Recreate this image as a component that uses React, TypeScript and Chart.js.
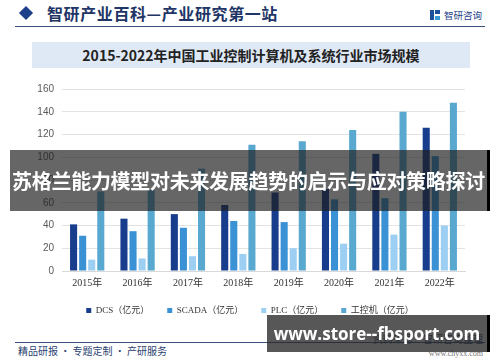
import React, { useEffect, useRef } from "react";
import { Chart, registerables } from "chart.js";
Chart.register(...registerables);

const years = ["2015年", "2016年", "2017年", "2018年", "2019年", "2020年", "2021年", "2022年"];
const dcs = [41, 46, 50, 58, 69, 72, 103, 126];
const scada = [31, 35, 38, 44, 43, 63, 64, 101];
const plc = [10, 11, 13, 15, 20, 24, 32, 40];
const ipc = [70, 71, 90, 111, 114, 124, 140, 148];
const seriesNames = ["DCS（亿元）", "SCADA（亿元）", "PLC（亿元）", "工控机（亿元）"];
const seriesColors = ["#173d8c", "#3a91d4", "#9ccff2", "#58a8d0"];
const yMin = 0;
const yMax = 160;
const yStep = 20;

const CJK = '"Noto Sans CJK SC", "Noto Sans", sans-serif';

export default function App() {
  const ref = useRef<HTMLCanvasElement>(null);
  useEffect(() => {
    document.body.style.margin = "0";
    const values = [dcs, scada, plc, ipc];
    const chart = new Chart(ref.current!, {
      type: "bar",
      data: {
        labels: years,
        datasets: values.map((v, i) => ({
          label: seriesNames[i],
          data: v,
          backgroundColor: seriesColors[i],
          borderWidth: 0,
          barPercentage: 0.78,
          categoryPercentage: 0.72,
        })),
      },
      options: {
        animation: false,
        responsive: false,
        events: [],
        layout: { padding: { left: 35, right: 35, top: 12, bottom: 0 } },
        plugins: {
          title: { display: false },
          tooltip: { enabled: false },
          legend: {
            position: "bottom",
            labels: {
              boxWidth: 5,
              boxHeight: 5,
              padding: 18,
              color: "#333",
              font: { size: 9, family: '"Liberation Serif", "Noto Sans CJK SC", serif' },
            },
          },
        },
        scales: {
          x: {
            grid: { display: false, drawTicks: false },
            border: { display: true, color: "#d9d9d9" },
            ticks: {
              padding: 6,
              color: "#333",
              font: { size: 10, family: '"Liberation Serif", "Noto Sans CJK SC", serif' },
            },
            afterFit: (s: any) => {
              s.height = 17;
            },
          },
          y: {
            min: yMin,
            max: yMax,
            ticks: {
              stepSize: yStep,
              padding: 8,
              color: "#595959",
              font: { size: 10, family: '"Liberation Sans", Arial, sans-serif' },
            },
            grid: { color: "#e3e3e3", drawTicks: false },
            border: { display: false },
            afterFit: (s: any) => {
              s.width = 27;
            },
          },
        },
      },
    });
    return () => chart.destroy();
  }, []);

  return (
    <div
      style={{
        position: "absolute",
        left: 0,
        top: 0,
        width: 500,
        height: 362,
        background: "#fff",
        overflow: "hidden",
        fontFamily: CJK,
      }}
    >
      {/* header */}
      <div
        style={{
          position: "absolute",
          left: 21,
          top: 8,
          width: 10,
          height: 10,
          background: "#1e3f8a",
          transform: "rotate(45deg)",
        }}
      />
      <div
        style={{
          position: "absolute",
          left: 47,
          top: 2,
          fontSize: 16,
          fontWeight: 700,
          color: "#1e3566",
          lineHeight: "22px",
          whiteSpace: "nowrap",
          letterSpacing: 0.6,
        }}
      >
        智研产业百科—产业研究第一站
      </div>
      <div style={{ position: "absolute", left: 430, top: 10, width: 4, height: 10, background: "#1e4f9a" }} />
      <div style={{ position: "absolute", left: 435, top: 10, width: 5, height: 4, background: "#1e4f9a" }} />
      <div style={{ position: "absolute", left: 435, top: 16, width: 5, height: 4, background: "#3a9ad8" }} />
      <div
        style={{
          position: "absolute",
          left: 444,
          top: 8,
          fontSize: 9.5,
          color: "#1e3f8a",
          lineHeight: "14px",
          whiteSpace: "nowrap",
        }}
      >
        智研咨询
      </div>
      <div style={{ position: "absolute", left: 15, top: 26, width: 470, height: 1, background: "#3a4f7a" }} />

      {/* title band */}
      <div
        style={{
          position: "absolute",
          left: 32,
          top: 42,
          width: 438,
          height: 26,
          background: "#dfe9f5",
          textAlign: "center",
          fontSize: 14,
          fontWeight: 700,
          lineHeight: "26px",
          color: "#222",
          whiteSpace: "nowrap",
        }}
      >
        2015-2022年中国工业控制计算机及系统行业市场规模
      </div>

      <canvas
        ref={ref}
        width={500}
        height={250}
        style={{ position: "absolute", left: 0, top: 75, width: 500, height: 250 }}
      />

      {/* footer */}
      <div style={{ position: "absolute", left: 15, top: 342, width: 470, height: 1, background: "#3a4f7a" }} />
      <div
        style={{
          position: "absolute",
          left: 18,
          top: 344,
          fontSize: 10,
          color: "#2a3f70",
          lineHeight: "14px",
          whiteSpace: "nowrap",
        }}
      >
        精品研报 · 专题定制 · 产研服务
      </div>
      <div
        style={{
          position: "absolute",
          right: 17,
          top: 332,
          fontSize: 10,
          color: "#2a3f70",
          lineHeight: "14px",
          whiteSpace: "nowrap",
        }}
      >
        资料来源：智研咨询整理
      </div>
      <div
        style={{
          position: "absolute",
          right: 17,
          top: 348,
          fontSize: 8,
          color: "#777",
          lineHeight: "11px",
          whiteSpace: "nowrap",
          fontFamily: '"Liberation Serif", serif',
        }}
      >
        www.chyxx.com
      </div>

      {/* overlay banner 1 */}
      <div
        style={{
          position: "absolute",
          left: 10,
          top: 150,
          width: 477,
          height: 61,
          background: "rgba(30,30,30,0.68)",
          color: "#fff",
          fontSize: 20,
          fontWeight: 700,
          lineHeight: "61px",
          textAlign: "center",
          whiteSpace: "nowrap",
          letterSpacing: -0.3,
        }}
      >
        苏格兰能力模型对未来发展趋势的启示与应对策略探讨
      </div>
      <div style={{ position: "absolute", left: 487, top: 150, width: 3, height: 61, background: "#000" }} />

      {/* overlay banner 2 */}
      <div
        style={{
          position: "absolute",
          left: 267,
          top: 315,
          width: 220,
          height: 37,
          background: "rgba(40,40,40,0.78)",
          color: "#fff",
          fontSize: 17,
          fontWeight: 700,
          lineHeight: "37px",
          textAlign: "center",
          whiteSpace: "nowrap",
          fontFamily: '"Open Sans", "DejaVu Sans", sans-serif',
        }}
      >
        www.store--fbsport.com
      </div>
      <div style={{ position: "absolute", left: 487, top: 315, width: 3, height: 37, background: "#000" }} />
    </div>
  );
}
